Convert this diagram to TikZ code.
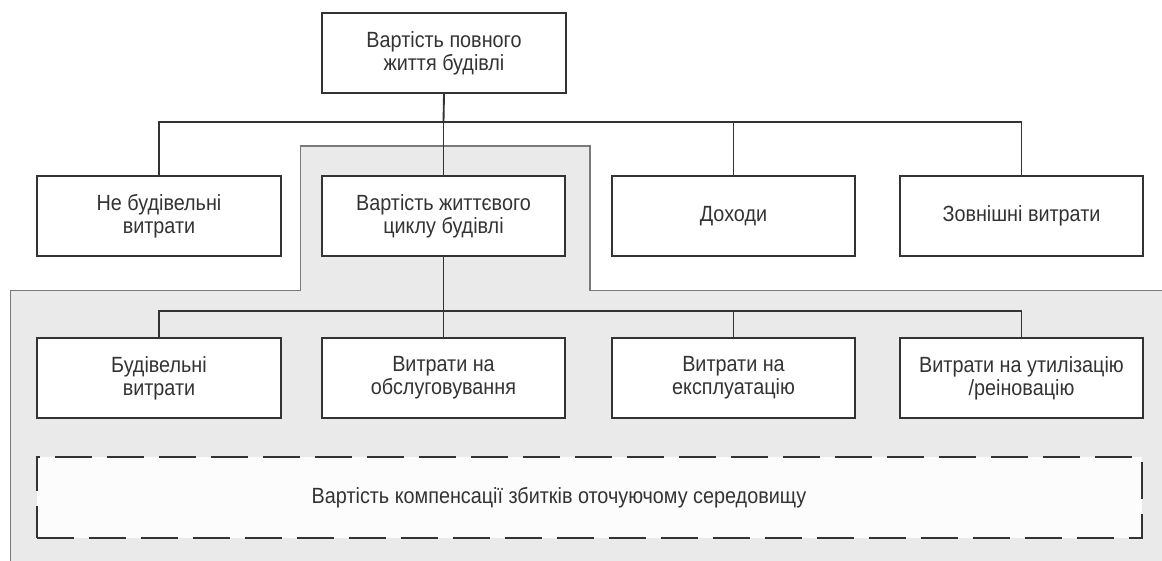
\documentclass[tikz,border=0pt]{standalone}
\usepackage{fontspec}
\setmainfont[FakeStretch=0.9]{Liberation Sans}
\definecolor{ink}{HTML}{333333}
\definecolor{bandfill}{HTML}{EAEAEA}
\definecolor{bandline}{HTML}{7A7A7A}
\begin{document}
\begin{tikzpicture}[x=0.75pt,y=-0.75pt,
  box/.style={draw=ink,line width=1.4pt,fill=white,text=ink,align=center,
    inner sep=0pt,minimum width=182.5pt,minimum height=60pt,
    font=\fontsize{16.5}{17.25}\selectfont},
  conn/.style={draw=ink,line width=1.4pt},
  dashbox/.style={draw=ink,line width=1.4pt,fill=white!99!black,
    dash pattern=on 27.75pt off 11.25pt,inner sep=0pt,
    minimum width=828.75pt,minimum height=60.75pt},
  plain/.style={text=ink,inner sep=0pt,font=\fontsize{16.5}{17.25}\selectfont}]
\useasboundingbox (0,0) rectangle (1162,560);
\begin{scope}
\clip (0,0) rectangle (1162,560);
\draw[fill=bandfill,draw=bandline,line width=1pt]
  (300.5,146) -- (590,146) -- (590,290.7) -- (1175,290.7) -- (1175,575)
  -- (10.5,575) -- (10.5,290.7) -- (300.5,290.7) -- cycle;
\end{scope}
% top
\node[box,minimum width=183pt] (top) at (444,53) {Вартість повного\\життя будівлі};
% level 1
\node[box] (ne) at (159,216) {Не будівельні\\витрати};
\node[box] (lcc) at (443.5,216) {Вартість життєвого\\циклу будівлі};
\node[box] (inc) at (733.5,216) {Доходи};
\node[box] (ext) at (1021.5,216) {Зовнішні витрати};
% level 2
\node[box] (bud) at (159,378) {Будівельні\\витрати};
\node[box] (obs) at (443.5,378) {Витрати на\\обслуговування};
\node[box] (eks) at (733.5,378) {Витрати на\\експлуатацію};
\node[box] (uti) at (1021.5,378) {Витрати на утилізацію\\/реіновацію};
% dashed
\node[dashbox] (env) at (589.8,497.8) {};
\node[plain] (envt) at (559,498) {Вартість компенсації збитків оточуючому середовищу};
% connectors
\coordinate (j1) at (443.5,122);
\coordinate (j2) at (443.5,310.7);
\draw[conn] (top.south) -- (j1);
\draw[conn] (ne.north) -- (ne.north |- j1) -- (ext.north |- j1) -- (ext.north);
\draw[conn] (inc.north) -- (inc.north |- j1);
\draw[conn] (j1) -- (lcc.north);
\draw[conn] (lcc.south) -- (j2);
\draw[conn] (bud.north) -- (bud.north |- j2) -- (uti.north |- j2) -- (uti.north);
\draw[conn] (eks.north) -- (eks.north |- j2);
\draw[conn] (j2) -- (obs.north);
\end{tikzpicture}
\end{document}
